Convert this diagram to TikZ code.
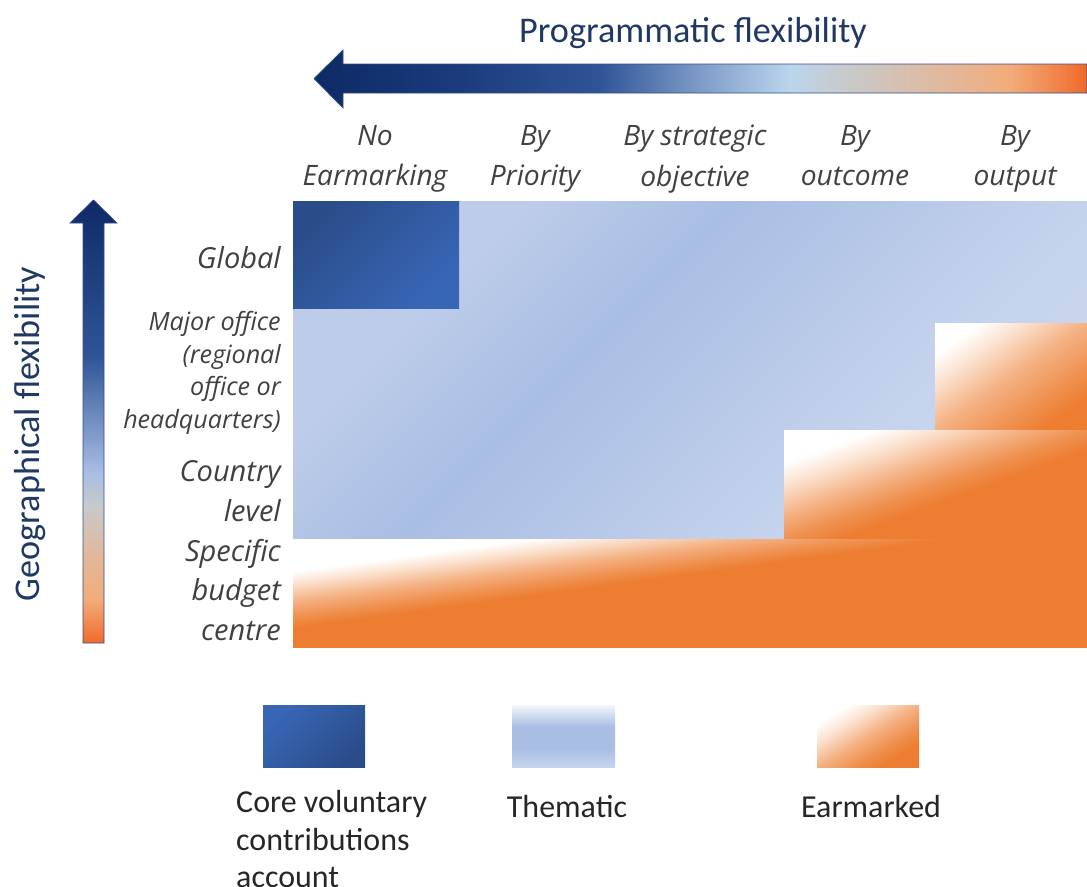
\documentclass[tikz,border=0pt]{standalone}
\usepackage{fontspec}
\setmainfont{Carlito}
\newfontfamily\lblfont{Open Sans}

% colours
\definecolor{navy}{HTML}{1F3864}
\definecolor{lblgray}{HTML}{404040}
\definecolor{leggray}{HTML}{262626}
\definecolor{arrline}{HTML}{2F4E8C}
\definecolor{navyA}{HTML}{0E2A66}
\definecolor{navyB}{HTML}{1A3A7A}
\definecolor{blueA}{HTML}{2F5597}
\definecolor{blueB}{HTML}{7F9CC8}
\definecolor{blueC}{HTML}{BBD5EC}
\definecolor{grayA}{HTML}{C9C9C9}
\definecolor{peachA}{HTML}{E3B79A}
\definecolor{peachB}{HTML}{F2AC7A}
\definecolor{redor}{HTML}{F06A2A}
\definecolor{themA}{HTML}{BDCCE9}
\definecolor{themB}{HTML}{A9BEE3}
\definecolor{themC}{HTML}{C4D2EC}
\definecolor{themD}{HTML}{D1DCF0}
\definecolor{themW}{HTML}{F3F6FB}
\definecolor{themE}{HTML}{C6D4EE}
\definecolor{coreA}{HTML}{2A4D89}
\definecolor{coreB}{HTML}{3866B6}
\definecolor{earA}{HTML}{FBE2D0}
\definecolor{earB}{HTML}{F4B183}
\definecolor{earC}{HTML}{EF9150}
\definecolor{earO}{HTML}{ED7D31}

% shadings
\pgfdeclarehorizontalshading{progshade}{100bp}{color(0bp)=(navyA); color(25bp)=(navyA);
  color(33.8bp)=(navyB); color(43.5bp)=(blueA); color(50bp)=(blueB); color(55.8bp)=(blueC);
  color(59.7bp)=(grayA); color(66.1bp)=(peachA); color(70bp)=(peachB); color(75bp)=(redor);
  color(100bp)=(redor)}
\pgfdeclareverticalshading{geoshade}{100bp}{color(0bp)=(redor); color(25bp)=(redor);
  color(29.9bp)=(peachB); color(34.7bp)=(peachA); color(40.3bp)=(grayA); color(44.2bp)=(themB);
  color(57.3bp)=(blueA); color(75bp)=(navyA); color(100bp)=(navyA)}
\pgfdeclarehorizontalshading{themshade}{100bp}{color(0bp)=(themA); color(25bp)=(themA);
  color(34.3bp)=(themB); color(50bp)=(themC); color(65bp)=(themD); color(100bp)=(themD)}
\pgfdeclarehorizontalshading{coreshade}{100bp}{color(0bp)=(coreA); color(25bp)=(coreA);
  color(75bp)=(coreB); color(100bp)=(coreB)}
\pgfdeclarehorizontalshading{corelegshade}{100bp}{color(0bp)=(coreB); color(25bp)=(coreB);
  color(75bp)=(coreA); color(100bp)=(coreA)}
\pgfdeclareverticalshading{themlegshade}{100bp}{color(0bp)=(themE); color(25bp)=(themE);
  color(40bp)=(themB); color(57.5bp)=(themB); color(75bp)=(themW); color(100bp)=(themW)}
\pgfdeclarehorizontalshading{earshadeA}{100bp}{color(0bp)=(white); color(25bp)=(white);
  color(35bp)=(earA); color(50bp)=(earB); color(65bp)=(earC); color(75bp)=(earO); color(100bp)=(earO)}
\pgfdeclarehorizontalshading{earshadeB}{100bp}{color(0bp)=(white); color(25bp)=(white);
  color(32.5bp)=(earA); color(42.5bp)=(earB); color(50bp)=(earC); color(56.5bp)=(earO); color(100bp)=(earO)}
\pgfdeclarehorizontalshading{earshadeC}{100bp}{color(0bp)=(white); color(25bp)=(white);
  color(29bp)=(earA); color(35bp)=(earB); color(40bp)=(earC); color(43.8bp)=(earO); color(100bp)=(earO)}
\pgfdeclarehorizontalshading{earlegshade}{100bp}{color(0bp)=(white); color(25bp)=(white);
  color(36bp)=(earA); color(50bp)=(earB); color(62bp)=(earC); color(72bp)=(earO); color(100bp)=(earO)}

\begin{document}
\begin{tikzpicture}[x=0.02cm,y=-0.02cm,
  hdr/.style={text=lblgray, font=\lblfont\itshape\fontsize{16}{23}\selectfont, align=center, anchor=north},
  rowlbl/.style={text=lblgray, font=\lblfont\itshape\fontsize{16.5}{22.5}\selectfont, align=right, anchor=east},
  legtxt/.style={text=leggray, font=\fontsize{18.2}{21.5}\selectfont}]

\useasboundingbox (0,0) rectangle (1087,886);

% Title and top arrow
\node[text=navy, font=\fontsize{20.6}{24}\selectfont] (title) at (693,33) {Programmatic flexibility};
\shadedraw[shading=progshade, draw=arrline, line width=0.4pt]
  (314,78.5) -- (343,50) -- (343,64) -- (1087,64) -- (1087,93) -- (343,93) -- (343,108) -- cycle;

% Left arrow
\node[rotate=90, text=navy, font=\fontsize{20.6}{24}\selectfont] (geo) at (30,434) {Geographical flexibility};
\shadedraw[shading=geoshade, draw=arrline, line width=0.4pt]
  (93.5,200) -- (117,223) -- (104,223) -- (104,643) -- (83,643) -- (83,223) -- (70,223) -- cycle;

% Column headers
\node[hdr] (hNone) at (375,119) {No\\Earmarking};
\node[hdr] (hPrio) at (535,119) {By\\Priority};
\node[hdr] (hStrat) at (695,119) {By strategic\\objective};
\node[hdr] (hOutc) at (855,119) {By\\outcome};
\node[hdr] (hOutp) at (1015,119) {By\\output};

% Row labels
\node[rowlbl] (rGlobal) at (287,258) {Global};
\node[rowlbl, font=\lblfont\itshape\fontsize{14.3}{18.5}\selectfont] (rMajor) at (287,373)
  {Major office\\(regional\\office or\\headquarters)};
\node[rowlbl] (rCountry) at (287,491) {Country\\level};
\node[rowlbl] (rSpecific) at (287,590) {Specific\\budget\\centre};

% Thematic background (45 degree gradient, clipped)
\begin{scope}
  \clip (293,201) rectangle (1087,647);
  \shade[shading=themshade, shading angle=-45] (293,201) rectangle (1087,995);
\end{scope}

% Core block
\shade[shading=coreshade, shading angle=-45] (293,201) rectangle (459,308);

% Earmarked steps (square shading stretched to the box)
\begin{scope}[transform canvas={shift={(935,323)}, xscale=1.52, yscale=1.07}]
  \shade[shading=earshadeA, shading angle=-45] (0,0) rectangle (100,100);
\end{scope}
\begin{scope}[transform canvas={shift={(784,430)}, xscale=3.03, yscale=1.09}]
  \shade[shading=earshadeB, shading angle=-45] (0,0) rectangle (100,100);
\end{scope}
\begin{scope}[transform canvas={shift={(293,539)}, xscale=7.94, yscale=1.08}]
  \shade[shading=earshadeC, shading angle=-45] (0,0) rectangle (100,100);
\end{scope}

% Legend
\shade[shading=corelegshade, shading angle=-45] (263,705) rectangle (365,767);
\shade[shading=themlegshade] (512,705) rectangle (615,767);
\begin{scope}[transform canvas={shift={(817,705)}, xscale=1.02, yscale=0.62}]
  \shade[shading=earlegshade, shading angle=-45] (0,0) rectangle (100,100);
\end{scope}

\node[legtxt, anchor=west, align=left] (txtCore) at (230,839) {Core voluntary\\contributions\\account};
\node[legtxt] (txtThem) at (567,806) {Thematic};
\node[legtxt] (txtEar) at (871,806) {Earmarked};

\end{tikzpicture}
\end{document}
